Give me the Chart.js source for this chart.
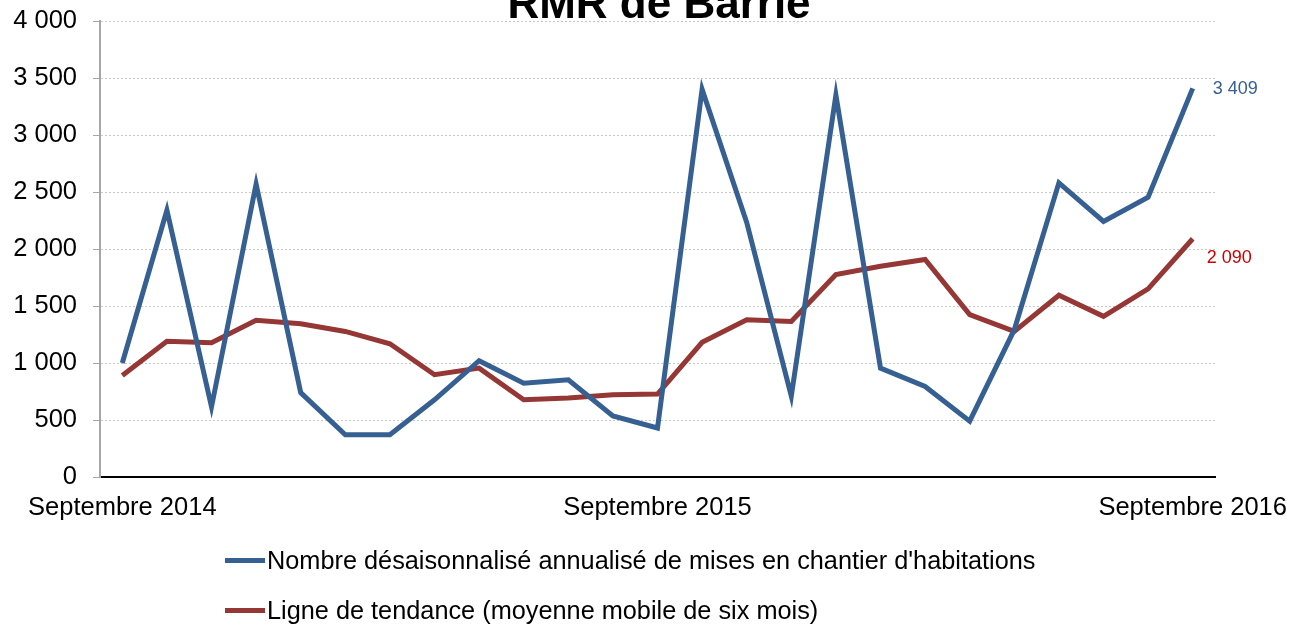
<!DOCTYPE html>
<html lang="fr">
<head>
<meta charset="utf-8">
<title>RMR de Barrie</title>
<script src="https://cdn.jsdelivr.net/npm/chart.js@4.4.1/dist/chart.umd.min.js"></script>
<style>
  html, body { margin: 0; padding: 0; background: #fff; overflow: hidden; }
  #wrap { position: relative; width: 1302px; height: 626px; }
  #chart { position: absolute; left: 0; top: 0; }
  .leg { position: absolute; left: 225px; height: 30px; display: flex; align-items: center;
         font: 25.3px "Liberation Sans", Arial, sans-serif; color: #000; white-space: nowrap; }
  .leg span.sw { display: inline-block; width: 40px; height: 5px; margin-right: 2px; }
</style>
</head>
<body>
<div id="wrap">
  <canvas id="chart" width="1302" height="626"></canvas>
  <div id="legend"></div>
</div>
<script>
// Mises en chantier, RMR de Barrie (sept. 2014 - sept. 2016)
const moisLabels = ['Septembre 2014', 'Octobre 2014', 'Novembre 2014', 'Décembre 2014', 'Janvier 2015',
    'Février 2015', 'Mars 2015', 'Avril 2015', 'Mai 2015', 'Juin 2015', 'Juillet 2015', 'Août 2015',
    'Septembre 2015', 'Octobre 2015', 'Novembre 2015', 'Décembre 2015', 'Janvier 2016', 'Février 2016',
    'Mars 2016', 'Avril 2016', 'Mai 2016', 'Juin 2016', 'Juillet 2016', 'Août 2016', 'Septembre 2016'];

const misesEnChantier = [1000, 2340, 615, 2570, 740, 370, 370, 677, 1020, 823, 853, 536, 430,
    3400, 2233, 710, 3350, 955, 794, 490, 1292, 2580, 2242, 2455, 3409];

const tendance = [890, 1190, 1178, 1374, 1345, 1277, 1169, 897, 955, 677, 694, 721, 727,
    1181, 1380, 1365, 1776, 1849, 1908, 1424, 1277, 1594, 1409, 1650, 2090];

const yTicks = [0, 500, 1000, 1500, 2000, 2500, 3000, 3500, 4000];

const FONT = '"Liberation Sans", Arial, sans-serif';

function fmt(v) {
    return String(Math.round(v)).replace(/\B(?=(\d{3})+(?!\d))/g, ' ');
}

// titre (coupé en haut comme dans l'original)
const titlePlugin = {
    id: 'titreCoupe',
    afterDraw: function(chart) {
        const ctx = chart.ctx;
        ctx.save();
        ctx.font = 'bold 44px ' + FONT;
        ctx.fillStyle = '#000';
        ctx.textAlign = 'center';
        ctx.textBaseline = 'alphabetic';
        ctx.fillText('RMR de Barrie', 659, 18);
        ctx.restore();
    }
};

// valeur du dernier point a droite de chaque serie
const endLabels = {
    id: 'endLabels',
    afterDatasetsDraw: function(chart) {
        const ctx = chart.ctx;
        const offs = [{dx: 20, dy: 1, color: '#366092'}, {dx: 14, dy: 19, color: '#cc0000'}];
        chart.data.datasets.forEach(function(ds, i) {
            const meta = chart.getDatasetMeta(i);
            const last = meta.data[meta.data.length - 1];
            ctx.save();
            ctx.font = '18px ' + FONT;
            ctx.fillStyle = offs[i].color;
            ctx.textAlign = 'left';
            ctx.textBaseline = 'middle';
            ctx.fillText(fmt(ds.data[ds.data.length - 1]), last.x + offs[i].dx, last.y + offs[i].dy);
            ctx.restore();
        });
    }
};

document.addEventListener('DOMContentLoaded', function() {
    var ctx = document.getElementById('chart').getContext('2d');
    var chart = new Chart(ctx, {
        type: 'line',
        data: {
            labels: moisLabels,
            datasets: [{
                label: "Nombre désaisonnalisé annualisé de mises en chantier d'habitations",
                data: misesEnChantier,
                borderColor: '#366092',
                backgroundColor: '#366092',
                borderWidth: 5,
                pointRadius: 0,
                tension: 0
            }, {
                label: 'Ligne de tendance (moyenne mobile de six mois)',
                data: tendance,
                borderColor: '#953735',
                backgroundColor: '#953735',
                borderWidth: 5,
                pointRadius: 0,
                tension: 0
            }]
        },
        options: {
            responsive: false,
            animation: false,
            layout: { padding: { left: 0, right: 87, top: 21, bottom: 0 } },
            plugins: {
                legend: { display: false },
                title: { display: false },
                tooltip: { enabled: false }
            },
            scales: {
                x: {
                    offset: true,
                    grid: { display: false, drawTicks: false },
                    border: { display: true, color: '#000', width: 2 },
                    afterFit: function(s) {
                        s.height = 149;
                        s.paddingLeft = 0;
                        s.paddingRight = 0;
                    },
                    ticks: {
                        autoSkip: false,
                        maxRotation: 0,
                        padding: 16,
                        color: '#000',
                        font: { family: FONT, size: 25.5 },
                        callback: function(value) {
                            var lab = this.getLabelForValue(value);
                            return lab.indexOf('Septembre') === 0 ? lab : '';
                        }
                    }
                },
                y: {
                    min: 0,
                    max: 4000,
                    afterFit: function(s) {
                        s.width = 100;
                        s.paddingTop = 0;
                        s.paddingBottom = 0;
                    },
                    afterBuildTicks: function(s) {
                        s.ticks = yTicks.map(function(v) { return { value: v }; });
                    },
                    grid: {
                        color: function(c) { return c.tick && c.tick.value === 0 ? 'rgba(0,0,0,0)' : '#c8c8c8'; },
                        lineWidth: 1,
                        drawTicks: true,
                        tickLength: 7,
                        tickColor: '#a6a6a6',
                        tickWidth: 1,
                        tickBorderDash: []
                    },
                    border: { display: true, color: '#a6a6a6', width: 2, dash: [2, 2] },
                    ticks: {
                        padding: 16,
                        color: '#000',
                        font: { family: FONT, size: 25.5 },
                        callback: function(v) { return fmt(v); }
                    }
                }
            }
        },
        plugins: [titlePlugin, endLabels]
    });

    // legende HTML sous le graphique, une entree par ligne
    var legend = document.getElementById('legend');
    var tops = [545, 595];
    chart.data.datasets.forEach(function(ds, i) {
        var item = document.createElement('div');
        item.className = 'leg';
        item.style.top = tops[i] + 'px';
        var sw = document.createElement('span');
        sw.className = 'sw';
        sw.style.background = ds.borderColor;
        item.appendChild(sw);
        item.appendChild(document.createTextNode(ds.label));
        legend.appendChild(item);
    });
});
</script>
</body>
</html>
